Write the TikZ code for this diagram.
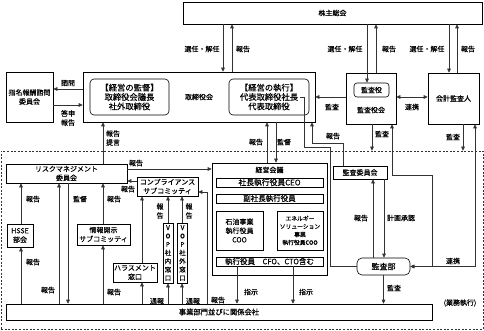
\documentclass[tikz,border=0pt]{standalone}
\usepackage{fontspec}
\setmainfont{Noto Sans CJK JP}[FakeBold=0.4]
\usetikzlibrary{arrows.meta,calc}
\begin{document}
\begin{tikzpicture}[x=1pt,y=-1pt,
  font=\fontsize{7}{9}\selectfont,
  box/.style={draw, line width=0.6pt, inner sep=0pt, align=center},
  rbox/.style={box, rounded corners=4pt},
  lab/.style={inner sep=0pt, align=center},
  ln/.style={line width=0.6pt, draw=black!80},
  tip/.tip={Triangle[length=4pt,width=3.6pt]},
  arr/.style={ln, -tip},
  arrb/.style={ln, tip-tip},
]
\useasboundingbox (0,0) rectangle (484,331);
\fill[white] (0,0) rectangle (484,331);

% dashed business execution area
\node[draw, draw=black!80, line width=0.6pt, dash pattern=on 2pt off 1.6pt, minimum width=482pt, minimum height=178pt, inner sep=0pt] (gyomu) at (242,240) {};
\node[lab] (lgyomu) at (460,303) {(業務執行)};

% top level
\node[box, minimum width=299pt, minimum height=22pt] (soukai) at (332.5,13) {株主総会};
\node[box, minimum width=232pt, minimum height=50pt] (tori) at (199,97) {};
\node[lab] (toril) at (199,97) {取締役会};
\node[rbox, minimum width=79pt, minimum height=36pt, font=\fontsize{8.3}{9.4}\selectfont] (kantoku) at (129.5,97) {【経営の監督】\\取締役会議長\\社外取締役};
\node[rbox, minimum width=80pt, minimum height=36pt, font=\fontsize{8.3}{9.4}\selectfont] (shikko) at (269,97) {【経営の執行】\\代表取締役社長\\代表取締役};
\coordinate (pres) at (300,97);
\node[box, minimum width=47pt, minimum height=50pt] (shimei) at (29.5,97) {指名報酬諮問\\委員会};
\node[box, minimum width=50pt, minimum height=51pt] (kansayakkai) at (371,98.5) {};
\node[rbox, rounded corners=3pt, minimum width=35pt, minimum height=14pt] (kansayaku) at (371.5,90) {監査役};
\node[lab] (kansayakkail) at (371,110) {監査役会};
\node[box, minimum width=51pt, minimum height=51pt] (kaikei) at (453.5,98.5) {会計監査人};

% execution side
\node[box, minimum width=121pt, minimum height=19pt] (risk) at (66.5,173.5) {リスクマネジメント\\委員会};
\node[box, minimum width=61pt, minimum height=19pt] (comp) at (167.5,186.5) {コンプライアンス\\サブコミッティ};
\node[box, minimum width=115pt, minimum height=112pt] (keiei) at (269.5,219) {};
\node[lab] (keieil) at (269.5,170) {経営会議};
\node[box, minimum width=107pt, minimum height=9pt, font=\fontsize{7.8}{9}\selectfont] (ceo) at (269.5,182.5) {社長執行役員CEO};
\node[box, minimum width=107pt, minimum height=9pt, font=\fontsize{7.5}{9}\selectfont] (fuku) at (269.5,198.5) {副社長執行役員};
\node[box, minimum width=47pt, minimum height=39pt] (sekiyu) at (239.5,230.5) {石油事業\\執行役員\\COO};
\node[box, minimum width=46pt, minimum height=39pt, font=\fontsize{5.8}{8}\selectfont] (energy) at (300,230.5) {エネルギー\\ソリューション\\事業\\執行役員COO};
\node[box, minimum width=107pt, minimum height=9pt, font=\fontsize{7.5}{9}\selectfont] (shikkoyakuin) at (269.5,261.5) {執行役員\quad CFO、CTO含む};
\node[box, minimum width=54pt, minimum height=13pt] (kansaiin) at (360,172.5) {監査委員会};
\node[rbox, rounded corners=5pt, minimum width=53pt, minimum height=17pt, font=\fontsize{8}{9}\selectfont] (kansabu) at (383.5,266.5) {監査部};
\node[box, minimum width=26pt, minimum height=23pt] (hsse) at (20,235.5) {HSSE\\部会};
\node[box, minimum width=53pt, minimum height=21pt] (joho) at (103.5,234.5) {情報開示\\サブコミッティ};
\node[box, minimum width=44pt, minimum height=19pt] (harass) at (135,272.5) {ハラスメント\\窓口};
\node[box, minimum width=10pt, minimum height=60pt, font=\fontsize{6.5}{8.4}\selectfont] (vop1) at (168,253) {V\\O\\P\\社\\内\\窓\\口};
\node[box, minimum width=10pt, minimum height=60pt, font=\fontsize{6.5}{8.4}\selectfont] (vop2) at (182.5,253) {V\\O\\P\\社\\外\\窓\\口};
\node[box, minimum width=426pt, minimum height=16pt, font=\fontsize{7.3}{9}\selectfont] (jigyo) at (219,312) {事業部門並びに関係会社};

% shareholders connectors
\draw[arr] (soukai.south -| 223,0) -- (tori.north -| 223,0);
\draw[arr] (tori.north -| 232,0) -- (soukai.south -| 232,0);
\draw[arr] (soukai.south -| 367,0) -- (kansayaku.north -| 367,0);
\draw[arr] (kansayakkai.north -| 376,0) -- (soukai.south -| 376,0);
\draw[arr] (soukai.south -| 449,0) -- (kaikei.north -| 449,0);
\draw[arr] (kaikei.north -| 457,0) -- (soukai.south -| 457,0);
\node[lab] (l1) at (202,49) {選任・解任};
\node[lab] (l2) at (243,49) {報告};
\node[lab] (l3) at (345,49) {選任・解任};
\node[lab] (l4) at (389,49) {報告};
\node[lab] (l5) at (427,49) {選任・解任};
\node[lab] (l6) at (468,49) {報告};

% board level
\draw[arr] (kansayakkai.west |- 0,97) -- (tori.east |- 0,97);
\node[lab] (l7) at (332,107) {監査};
\draw[arrb] (kansayakkai.east |- 0,97) -- (kaikei.west |- 0,97);
\node[lab] (l8) at (412,107) {連携};
\draw[arr] (tori.west |- 0,89) -- (shimei.east |- 0,89);
\node[lab] (l9) at (68,83) {諮問};
\draw[arr] (shimei.east |- 0,105) -- (tori.west |- 0,105);
\node[lab] (l10) at (68,118) {答申\\報告};

% board <-> execution
\draw[arr] (risk.north -| 103,0) -- (tori.south -| 103,0);
\node[lab] (l11) at (113,138) {報告\\提言};
\draw[arr] (keiei.north -| 267,0) -- (tori.south -| 267,0);
\draw[arr] (tori.south -| 276,0) -- (keiei.north -| 276,0);
\node[lab] (l12) at (256,142) {報告};
\node[lab] (l13) at (284,142) {監督};
\draw[arr] (kansaiin.north -| 343,0) |- (312,143) -- (tori.south -| 312,0);
\node[lab] (l14) at (333,136) {報告};
\draw[ln] (pres) -- ++(4,0) -- ++(0,50) -- ++(26,0) |- (kansabu.west);
\draw[arr] (kansayakkai.south -| 372,0) -- (gyomu.north -| 372,0);
\node[lab] (l15) at (382,134) {監査};
\draw[arr] (kaikei.south -| 463,0) -- (gyomu.north -| 463,0);
\node[lab] (l16) at (453,137) {監査};

% audit department
\draw[arr] (kansaiin.south -| 384,0) -- (kansabu.north -| 384,0);
\draw[arr] (kansabu.north -| 373,0) -- (kansaiin.south -| 373,0);
\node[lab] (l17) at (361,218) {報告};
\node[lab] (l18) at (401,218) {計画承認};
\draw[arrb] (kansayakkai.south -| 392,0) |- (432,175) |- (kansabu.east);
\draw[arrb] (kaikei.south -| 475,0) |- (kansabu.east);
\node[lab] (l19) at (453,261) {連携};
\draw[arr] (kansabu.south) -- (jigyo.north -| kansabu.south);
\node[lab] (l20) at (394,288) {監査};

% executive committee
\draw[arr] (risk.east |- 0,169) -- (keiei.west |- 0,169);
\node[lab] (l21) at (136,163) {報告};
\draw[arr] (comp.west |- 0,181) -- (risk.east |- 0,181);
\node[lab] (l22) at (128,189) {報告};
\draw[arr] (jigyo.north -| 207,0) |- (comp.east |- 0,192);
\node[lab] (l23) at (218,300) {報告};
\draw[arr] (shikkoyakuin.south -| 237,0) -- (jigyo.north -| 237,0);
\draw[arr] (shikkoyakuin.south -| 293,0) -- (jigyo.north -| 293,0);
\node[lab] (l24) at (251,292) {指示};
\node[lab] (l25) at (306,292) {指示};

% left side
\draw[arr] (hsse.north -| 21,0) -- (risk.south -| 21,0);
\draw[arr] (jigyo.north -| 21,0) -- (hsse.south -| 21,0);
\node[lab] (l26) at (33,199) {報告};
\node[lab] (l27) at (33,262) {報告};
\draw[arr] (jigyo.north -| 59,0) -- (risk.south -| 59,0);
\node[lab] (l28) at (48,290) {報告};
\draw[arr] (risk.south -| 68,0) -- (jigyo.north -| 68,0);
\node[lab] (l29) at (80,199) {監督};
\draw[arr] (joho.north -| 103,0) -- (risk.south -| 103,0);
\draw[arr] (jigyo.north -| 103,0) -- (joho.south -| 103,0);
\node[lab] (l30) at (114,199) {報告};
\node[lab] (l31) at (114,292) {報告};
\draw[arr] (harass.north -| 142,0) -- (comp.south -| 142,0);
\draw[arr] (jigyo.north -| 142,0) -- (harass.south -| 142,0);
\node[lab] (l32) at (157,301) {通報};
\draw[arr] (vop1.north -| 168,0) -- (comp.south -| 168,0);
\draw[arr] (jigyo.north -| 168,0) -- (vop1.south -| 168,0);
\draw[arr] (vop2.north -| 182,0) -- (comp.south -| 182,0);
\draw[arr] (jigyo.north -| 182,0) -- (vop2.south -| 182,0);
\node[lab] (l33) at (193,301) {通報};
\node[lab] (l34) at (160,211) {報\\告};
\node[lab] (l35) at (189,211) {報\\告};
\end{tikzpicture}
\end{document}
